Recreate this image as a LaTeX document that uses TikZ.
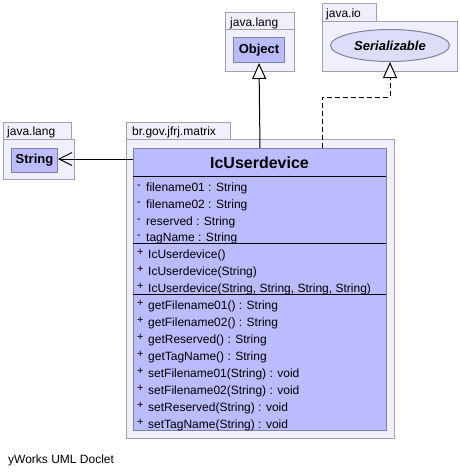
\documentclass[tikz,border=0pt]{standalone}
\usepackage{fontspec}
\setmainfont{Liberation Sans}
\usetikzlibrary{arrows.meta,shapes.geometric}
\definecolor{pkgfill}{RGB}{240,240,252}
\definecolor{pkgline}{RGB}{160,160,178}
\definecolor{clsfill}{RGB}{187,187,255}
\definecolor{clsline}{RGB}{128,128,160}
\definecolor{ellfill}{RGB}{221,221,247}
\tikzset{
  pkgbox/.style={draw=pkgline, fill=pkgfill, line width=1pt, inner sep=0pt, anchor=north west},
  pkglabel/.style={anchor=base west, inner sep=0pt, font=\fontsize{12}{12}\selectfont},
  clsbox/.style={draw=clsline, fill=clsfill, line width=1pt, inner sep=0pt, anchor=north west},
  member/.style={anchor=base west, inner sep=0pt, font=\fontsize{12}{12}\selectfont},
  vis/.style={anchor=base west, inner sep=0pt, font=\fontsize{11}{11}\selectfont},
  sepline/.style={line width=1pt, black},
  gen/.style={line width=1pt, -{Triangle[open, length=16pt, width=14pt, fill=white]}},
  dep/.style={line width=1pt, -{Straight Barb[length=13pt, width=13pt]}},
  real/.style={line width=1pt, dash pattern=on 5pt off 3pt, -{Triangle[open, length=16pt, width=14pt, fill=white]}},
}
\begin{document}
\begin{tikzpicture}[x=1pt, y=-1pt]
\useasboundingbox (0,0) rectangle (459,475);
% java.lang (Object)
\node[pkgbox, minimum width=69pt, minimum height=17pt] (objtab) at (225,12) {};
\node[pkgbox, minimum width=69pt, minimum height=42pt] (objpkg) at (225,29) {};
\node[pkglabel] (objlbl) at (230,26) {java.lang};
\node[clsbox, minimum width=51pt, minimum height=25pt, font=\fontsize{13}{13}\selectfont\bfseries] (obj) at (233,37) {Object};
% java.io (Serializable)
\node[pkgbox, minimum width=54pt, minimum height=18pt] (sertab) at (322,3) {};
\node[pkgbox, minimum width=135pt, minimum height=50pt] (serpkg) at (322,21) {};
\node[pkglabel] (serlbl) at (326,17.5) {java.io};
\node[ellipse, draw=clsline, fill=ellfill, line width=1pt, minimum width=119pt, minimum height=32pt, inner sep=0pt, font=\fontsize{13}{13}\selectfont\bfseries\itshape] (ser) at (390,45.5) {Serializable};
% java.lang (String)
\node[pkgbox, minimum width=68pt, minimum height=17pt] (strtab) at (3,122) {};
\node[pkgbox, minimum width=71pt, minimum height=40pt] (strpkg) at (3,139) {};
\node[pkglabel] (strlbl) at (7,135) {java.lang};
\node[clsbox, minimum width=46pt, minimum height=24pt, font=\fontsize{13}{13}\selectfont\bfseries] (str) at (11,148) {String};
% br.gov.jfrj.matrix
\node[pkgbox, minimum width=104pt, minimum height=17pt] (mtab) at (126,122) {};
\node[pkgbox, minimum width=268pt, minimum height=299pt] (mpkg) at (126,139) {};
\node[pkglabel] (mlbl) at (132,135) {br.gov.jfrj.matrix};
% class
\node[clsbox, minimum width=253pt, minimum height=282pt] (cls) at (133,148) {};
\node[font=\fontsize{16}{16}\selectfont\bfseries, inner sep=0pt, anchor=base] (title) at (259.5,168) {IcUserdevice};
\coordinate (s1l) at (133,176); \coordinate (s1r) at (386,176);
\coordinate (s2l) at (133,243); \coordinate (s2r) at (386,243);
\coordinate (s3l) at (133,294); \coordinate (s3r) at (386,294);
\draw[sepline] (s1l) -- (s1r);
\draw[sepline] (s2l) -- (s2r);
\draw[sepline] (s3l) -- (s3r);
% attributes
\foreach \t [count=\i from 0] in {filename01 : String, filename02 : String, reserved : String, tagName : String} {
  \node[vis] (a\i s) at (137,188.5+16.75*\i) {-};
  \node[member] (a\i) at (146,191.5+16.75*\i) {\t};
}
% constructors
\foreach \t [count=\i from 0] in {IcUserdevice(), IcUserdevice(String), {IcUserdevice(String, String, String, String)}} {
  \node[vis] (c\i s) at (137,255.5+17*\i) {+};
  \node[member] (c\i) at (148,258.5+17*\i) {\t};
}
% methods
\foreach \t [count=\i from 0] in {getFilename01() : String, getFilename02() : String, getReserved() : String, getTagName() : String, setFilename01(String) : void, setFilename02(String) : void, setReserved(String) : void, setTagName(String) : void} {
  \node[vis] (m\i s) at (137,306.5+17*\i) {+};
  \node[member] (m\i) at (148,309.5+17*\i) {\t};
}
% connectors
\draw[gen] (cls.north) -- (obj.south);
\coordinate (d0) at (322,148);
\coordinate (d1) at (322,97);
\coordinate (d2) at (390,97);
\draw[real] (d0) -- (d1) -- (d2) -- (ser.south);
\coordinate (clsleft) at (133,159);
\draw[dep] (clsleft) -- (str.east |- clsleft);
% footer
\node[member] (footer) at (8,463) {yWorks UML Doclet};
\end{tikzpicture}
\end{document}
